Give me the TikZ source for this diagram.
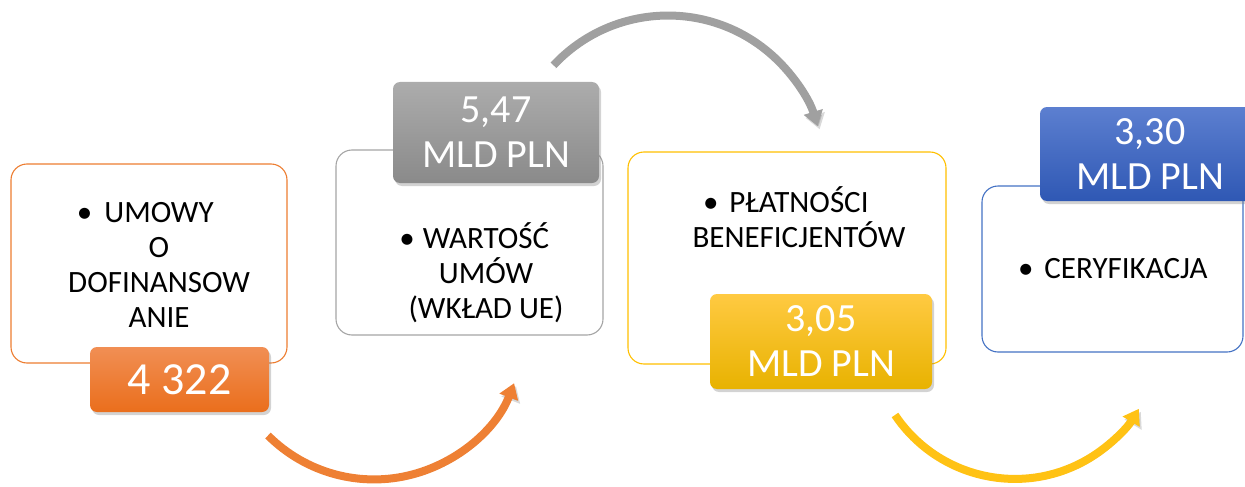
\documentclass[tikz,border=0pt]{standalone}
\usepackage{fontspec}
\setmainfont{Carlito}
\usetikzlibrary{arrows.meta,shadows}
\definecolor{orLine}{RGB}{237,125,49}
\definecolor{grLine}{RGB}{165,165,165}
\definecolor{yeLine}{RGB}{255,192,0}
\definecolor{blLine}{RGB}{68,114,196}
\definecolor{orTop}{RGB}{241,143,84}
\definecolor{orBot}{RGB}{234,110,28}
\definecolor{grTop}{RGB}{172,172,172}
\definecolor{grBot}{RGB}{138,138,138}
\definecolor{yeTop}{RGB}{255,202,66}
\definecolor{yeBot}{RGB}{232,178,0}
\definecolor{blTop}{RGB}{92,127,208}
\definecolor{blBot}{RGB}{47,88,180}
\definecolor{orArrow}{RGB}{238,128,52}
\definecolor{grArrow}{RGB}{160,160,160}
\definecolor{yeArrow}{RGB}{255,194,20}
\begin{document}
\begin{tikzpicture}[x=1pt,y=-1pt,
  box/.style={draw, rounded corners=16pt, line width=1.1pt, fill=white, inner sep=0pt},
  badge/.style={rounded corners=7pt, inner sep=0pt, text=white, align=center,
    font={\fontsize{40}{45}\selectfont},
    drop shadow={opacity=0.35, shadow xshift=2pt, shadow yshift=-3pt}},
  txt/.style={align=center, inner sep=0pt, text=black},
  flow/.style={line width=8pt, line cap=butt, -{Triangle[length=15pt,width=19pt]},
    preaction={draw=black, opacity=0.15, transform canvas={shift={(2pt,-3pt)}}}}
]
\useasboundingbox (0,0) rectangle (1245,487);

% outlined boxes
\node[box, draw=orLine, minimum width=276pt, minimum height=199pt] (b1) at (149,263.5) {};
\node[box, draw=grLine, minimum width=267pt, minimum height=185pt] (b2) at (469.5,242.5) {};
\node[box, draw=yeLine, minimum width=318pt, minimum height=212pt] (b3) at (787,258) {};
\node[box, draw=blLine, minimum width=261pt, minimum height=166pt] (b4) at (1112.5,269) {};

% texts
\node[txt, font={\fontsize{31}{35}\selectfont}] (t1) at (159,264.5)
  {\llap{•\hspace{12pt}}UMOWY\\O\\DOFINANSOW\\ANIE};
\node[txt, font={\fontsize{31}{35}\selectfont}] (t2) at (486,273)
  {\llap{•\hspace{8pt}}WARTOŚĆ\\UMÓW\\(WKŁAD UE)};
\node[txt, font={\fontsize{31}{35}\selectfont}] (t3) at (799,217.5)
  {\llap{•\hspace{11pt}}PŁATNOŚCI\\BENEFICJENTÓW};
\node[txt, font={\fontsize{31}{35}\selectfont}] (t4) at (1126,269)
  {\llap{•\hspace{11pt}}CERYFIKACJA};

% badges
\node[badge, top color=orTop, bottom color=orBot, minimum width=179pt, minimum height=65pt,
  font={\fontsize{46}{50}\selectfont}] (v1) at (179.5,379.5) {4 322};
\node[badge, top color=grTop, bottom color=grBot, minimum width=206pt, minimum height=101pt] (v2) at (496,132.5) {5,47\\MLD PLN};
\node[badge, top color=yeTop, bottom color=yeBot, minimum width=222pt, minimum height=95pt] (v3) at (821,341.5) {3,05\\MLD PLN};
\node[badge, top color=blTop, bottom color=blBot, minimum width=220pt, minimum height=94pt] (v4) at (1150,154) {3,30\\MLD PLN};

% curved arrows
\coordinate (a1) at (268,435.5);
\coordinate (a2) at (553.5,65.3);
\coordinate (a3) at (895,415);
\draw[flow, draw=orArrow] (a1) arc[start angle=135, end angle=21, radius=150];
\draw[flow, draw=grArrow] (a2) arc[start angle=-137, end angle=-17, radius=156.5];
\draw[flow, draw=yeArrow] (a3) arc[start angle=146.1, end angle=31, radius=144.5];
\end{tikzpicture}
\end{document}
